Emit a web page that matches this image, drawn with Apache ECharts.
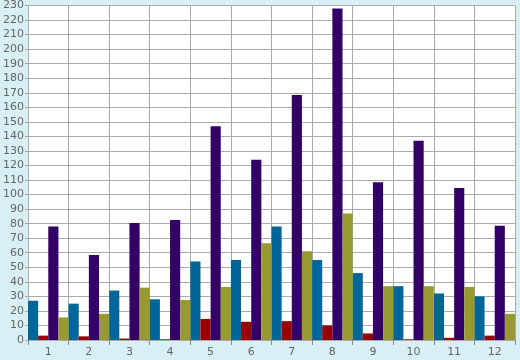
<!DOCTYPE html>
<html><head><meta charset="utf-8">
<script src="https://cdn.jsdelivr.net/npm/echarts@6/dist/echarts.min.js"></script>
<style>html,body{margin:0;padding:0;background:#d9eff6;}#c{width:520px;height:360px;}</style>
</head><body><div id="c"></div>
<script>
var categories = ['1','2','3','4','5','6','7','8','9','10','11','12'];
var seriesBlue   = [27, 25, 34, 28, 54, 55, 78, 55, 46, 37, 32, 30];
var seriesRed    = [3, 2.5, 1, 0.5, 14.5, 12.5, 13, 10, 4.5, 0.5, 1.5, 3];
var seriesPurple = [78, 58.5, 80.5, 82.5, 147, 124, 168.5, 228, 108.5, 137, 104.5, 78.5];
var seriesOlive  = [15.5, 18, 36, 27.5, 36.5, 66.5, 61, 87, 37, 37, 36.5, 18];
var colors = ['#006699', '#990000', '#330066', '#999933'];
var chart = echarts.init(document.getElementById('c'));
function mk(d, c) { return { type: 'bar', data: d, itemStyle: { color: c }, barGap: '0%', barCategoryGap: '0%', animation: false }; }
chart.setOption({
  backgroundColor: '#d9eff6',
  animation: false,
  grid: { left: 26, right: 5, top: 5, bottom: 20, show: true, backgroundColor: '#ffffff', borderWidth: 0 },
  xAxis: {
    type: 'category', data: categories,
    axisLine: { show: false },
    axisTick: { show: true, length: 5, lineStyle: { color: '#888' } },
    axisLabel: { color: '#666', fontFamily: 'DejaVu Sans', fontSize: 11, margin: 7 },
    splitLine: { show: true, lineStyle: { color: '#aaaaaa', width: 1 } }
  },
  yAxis: {
    type: 'value', min: 0, max: 230, interval: 10,
    axisLine: { show: true, lineStyle: { color: '#aaaaaa' } },
    axisTick: { show: true, length: 3, lineStyle: { color: '#aaaaaa' } },
    axisLabel: { color: '#666', fontFamily: 'DejaVu Sans', fontSize: 11, margin: 4 },
    splitLine: { show: true, lineStyle: { color: '#aaaaaa', width: 1 } }
  },
  series: [mk(seriesBlue, colors[0]), mk(seriesRed, colors[1]), mk(seriesPurple, colors[2]), mk(seriesOlive, colors[3])]
});
</script></body></html>
